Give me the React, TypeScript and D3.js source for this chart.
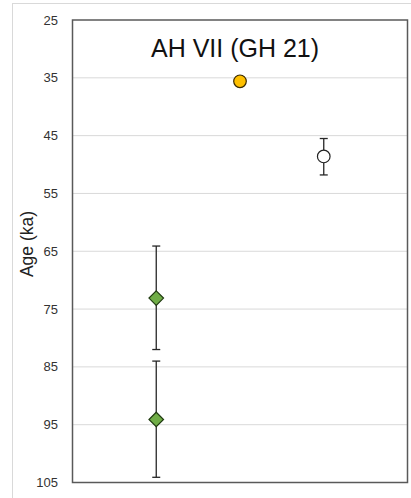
import React from "react";
import * as d3 from "d3";

const title = "AH VII (GH 21)";
const yTicks = [25, 35, 45, 55, 65, 75, 85, 95, 105];
const yLabel = "Age (ka)";

// green diamonds
const diamondX = [1, 1];
const diamondAge = [73.1, 94.1];
const diamondLow = [64.1, 84.0];
const diamondHigh = [82.0, 104.1];

// yellow circle
const yellowX = [2];
const yellowAge = [35.6];

// open circle
const openX = [3];
const openAge = [48.6];
const openLow = [45.5];
const openHigh = [51.8];

export default function App() {
  const W = 411, H = 498;
  const left = 72.5, right = 407.5, top = 20, bottom = 482.5;
  const x = d3.scaleLinear().domain([0, 4]).range([left, right]);
  const y = d3.scaleLinear().domain([25, 105]).range([top, bottom]);
  const cap = 4;
  const errColor = "#262626";

  const errBar = (xv: number, lo: number, hi: number, key: string) => (
    <g key={key} stroke={errColor} strokeWidth={1.3}>
      <line x1={x(xv)} x2={x(xv)} y1={y(lo)} y2={y(hi)} />
      <line x1={x(xv) - cap} x2={x(xv) + cap} y1={y(lo)} y2={y(lo)} />
      <line x1={x(xv) - cap} x2={x(xv) + cap} y1={y(hi)} y2={y(hi)} />
    </g>
  );

  const diamond = d3.symbol().type(d3.symbolDiamond2 ?? d3.symbolDiamond).size(135)();

  return (
    <svg width={W} height={H} style={{ position: "absolute", left: 0, top: 0, fontFamily: "'Liberation Sans', Arial, sans-serif" }}>
      <rect x={0} y={0} width={W} height={H} fill="#fff" />
      <rect x={12.5} y={3.5} width={430} height={520} fill="none" stroke="#d9d9d9" strokeWidth={1} />
      {yTicks.slice(1, -1).map((t) => (
        <line key={t} x1={left} x2={right} y1={y(t)} y2={y(t)} stroke="#d9d9d9" strokeWidth={1} />
      ))}
      {yTicks.map((t) => (
        <text key={"l" + t} x={58} y={y(t)} dy="0.35em" textAnchor="end" fontSize={13} fill="#333">
          {t}
        </text>
      ))}
      <text transform={`translate(33,${244}) rotate(-90)`} textAnchor="middle" fontSize={17.5} fill="#222">
        {yLabel}
      </text>
      <rect x={left} y={top} width={right - left} height={bottom - top} fill="none" stroke="#595959" strokeWidth={1.5} />
      <text x={235} y={57} textAnchor="middle" fontSize={25} fill="#111">
        {title}
      </text>
      {diamondX.map((xv, i) => errBar(xv, diamondLow[i], diamondHigh[i], "de" + i))}
      {openX.map((xv, i) => errBar(xv, openLow[i], openHigh[i], "oe" + i))}
      {diamondX.map((xv, i) => (
        <path key={"d" + i} d={diamond as string} transform={`translate(${x(xv)},${y(diamondAge[i])})`} fill="#70ad47" stroke="#1f3a10" strokeWidth={1.2} />
      ))}
      {yellowX.map((xv, i) => (
        <circle key={"y" + i} cx={x(xv)} cy={y(yellowAge[i])} r={6.3} fill="#ffc000" stroke="#3a2a00" strokeWidth={1.2} />
      ))}
      {openX.map((xv, i) => (
        <circle key={"o" + i} cx={x(xv)} cy={y(openAge[i])} r={6.3} fill="#fff" stroke="#222" strokeWidth={1.2} />
      ))}
    </svg>
  );
}
